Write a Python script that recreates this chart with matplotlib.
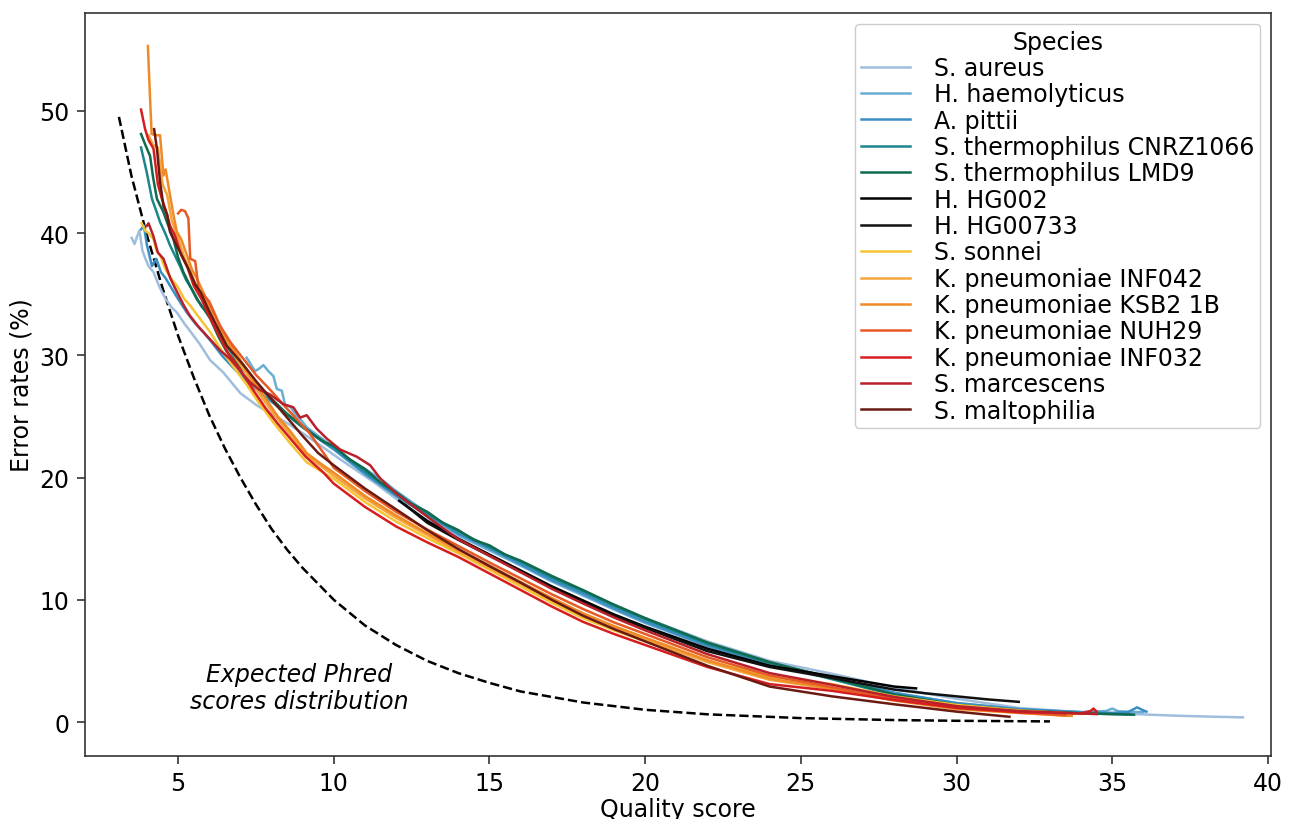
import matplotlib
matplotlib.use("Agg")
import matplotlib.pyplot as plt

# values (quality score -> error rate %)

PHRED_Q = [3.1, 3.5, 4, 4.5, 5, 5.5, 6, 6.5, 7, 7.5, 8, 8.5, 9, 10, 11, 12, 13, 14, 15,
           16, 18, 20, 22, 25, 28, 30, 33]
PHRED_E = [49.5, 44.7, 39.8, 35.5, 31.6, 28.2, 25.1, 22.4, 20.0, 17.8, 15.8, 14.1, 12.6,
           10.0, 7.9, 6.3, 5.0, 4.0, 3.2, 2.5, 1.6, 1.0, 0.63, 0.32, 0.16, 0.1, 0.05]

AUREUS_Q = [3.51, 3.6, 3.68, 3.76, 3.85, 3.95, 4.05, 4.21, 4.4, 4.6, 4.8, 4.96, 5.2, 5.38,
            5.7, 6.03, 6.45, 7.0, 7.53, 8.06, 8.6, 9.13, 9.7, 10.2, 11.3, 12.3, 13, 14, 15,
            16, 17, 18, 19, 20, 22, 24, 26, 28, 30, 32, 34, 36, 37, 38, 39.2]
AUREUS_E = [39.6, 39.1, 39.7, 40.2, 38.6, 37.9, 37.3, 36.8, 35.6, 34.6, 33.9, 33.5, 32.6,
            32.0, 30.9, 29.6, 28.6, 26.9, 25.9, 25.1, 24.3, 23.4, 22.4, 21.5, 19.6, 17.7,
            16.5, 15.25, 14.05, 12.9, 11.75, 10.65, 9.6, 8.5, 6.6, 5.0, 3.95, 2.8, 1.9,
            1.15, 0.8, 0.62, 0.52, 0.45, 0.38]

HAEM_Q = [7.2, 7.35, 7.47, 7.6, 7.74, 7.9, 8.06, 8.17, 8.33, 8.44, 8.6, 8.76, 8.95, 9.13,
          9.45, 9.77, 10.5, 11.5, 12, 13, 14, 15, 16, 17, 18, 19, 20, 22, 24, 26, 28, 30,
          32, 34, 34.8, 35.0, 35.2, 36.0]
HAEM_E = [29.8, 29.2, 28.7, 28.9, 29.2, 28.7, 28.3, 27.25, 27.1, 25.9, 25.8, 25.2, 24.7,
          24.1, 23.5, 22.9, 21.5, 19.9, 18.9, 17.1, 15.3, 14.05, 12.8, 11.5, 10.35, 9.2,
          8.1, 6.2, 4.75, 3.6, 2.35, 1.55, 1.05, 0.82, 0.9, 1.1, 0.88, 0.8]

PITTII_Q = [3.81, 3.9, 4.0, 4.16, 4.3, 4.45, 4.6, 4.74, 5.0, 5.28, 5.55, 5.81, 6.1, 6.4,
            6.8, 7.2, 7.6, 8.0, 8.4, 8.8, 9.2, 9.6, 10, 11, 12, 13, 14, 15, 16, 17, 18,
            19, 20, 22, 24, 26, 28, 30, 32, 34, 35, 35.5, 35.8, 36.0, 36.1]
PITTII_E = [40.3, 40.6, 39.0, 37.3, 37.9, 36.8, 36.3, 35.7, 34.6, 33.5, 32.6, 31.9, 31.0,
            30.0, 28.9, 27.9, 27.0, 26.2, 25.4, 24.6, 23.8, 23.0, 22.3, 20.3, 18.5, 16.9,
            15.4, 14.2, 12.9, 11.6, 10.5, 9.3, 8.2, 6.25, 4.8, 3.65, 2.4, 1.55, 1.05, 0.8,
            0.75, 0.8, 1.2, 0.95, 0.85]

CNRZ_Q = [3.81, 3.9, 3.99, 4.16, 4.3, 4.42, 4.6, 4.74, 5.06, 5.25, 5.49, 5.75, 6.03, 6.3,
          6.6, 7.0, 7.4, 7.8, 8.2, 8.6, 9.0, 9.5, 10, 11, 12, 13, 14, 15, 16, 17, 18, 19,
          20, 22, 24, 26, 28, 30, 32, 34, 35.6]
CNRZ_E = [47.0, 46.0, 45.0, 42.8, 41.8, 40.9, 39.9, 39.0, 37.3, 36.2, 35.2, 34.0, 33.2,
          31.8, 30.6, 29.2, 28.0, 26.9, 25.8, 24.9, 24.1, 23.2, 22.45, 20.5, 18.65, 17.0,
          15.6, 14.3, 13.1, 11.8, 10.7, 9.5, 8.4, 6.4, 4.8, 3.5, 2.2, 1.35, 0.92, 0.7,
          0.62]

LMD9_Q = [3.81, 3.95, 4.1, 4.2, 4.32, 4.53, 4.7, 4.85, 5.0, 5.17, 5.4, 5.6, 5.8, 6.03,
          6.3, 6.56, 6.9, 7.3, 7.7, 8.1, 8.5, 8.9, 9.3, 9.7, 10, 10.5, 11, 11.5, 12, 12.5,
          13, 13.5, 14, 14.5, 15, 15.5, 16, 17, 18, 19, 20, 22, 24, 26, 28, 30, 32, 34,
          35.7]
LMD9_E = [48.1, 47.2, 46.3, 44.5, 42.8, 41.7, 40.5, 39.5, 38.0, 36.8, 35.6, 34.6, 33.9,
          33.0, 31.5, 30.3, 29.3, 28.3, 27.2, 26.2, 25.2, 24.4, 23.6, 22.9, 22.6, 21.5,
          20.7, 19.6, 18.8, 17.85, 17.2, 16.3, 15.7, 14.9, 14.45, 13.7, 13.2, 11.95, 10.8,
          9.6, 8.5, 6.5, 4.9, 3.6, 2.25, 1.4, 0.95, 0.72, 0.6]

HG002_Q = [12.1, 13, 14, 15, 16, 17, 18, 19, 20, 22, 24, 26, 28, 28.7]
HG002_E = [18.1, 16.45, 15.0, 13.7, 12.4, 11.1, 9.95, 8.8, 7.8, 6.0, 4.6, 3.75, 2.9, 2.75]

HG00733_Q = [12.3, 13, 14, 15, 16, 17, 18, 19, 20, 22, 24, 26, 28, 29, 30, 31, 32.0]
HG00733_E = [17.75, 16.3, 14.9, 13.6, 12.3, 11.0, 9.8, 8.7, 7.7, 5.8, 4.5, 3.6, 2.65,
             2.35, 2.1, 1.85, 1.65]

SONNEI_Q = [3.83, 3.95, 4.05, 4.21, 4.3, 4.42, 4.6, 4.8, 4.96, 5.2, 5.38, 5.7, 6.03, 6.4,
            6.88, 7.2, 7.6, 8.06, 8.6, 9.13, 9.6, 10, 11, 12, 13, 14, 15, 16, 17, 18, 19,
            20, 22, 24, 26, 28, 30, 32, 34]
SONNEI_E = [40.8, 40.2, 40.0, 39.5, 38.6, 38.2, 37.0, 36.2, 35.7, 34.6, 34.1, 33.0, 31.9,
            30.4, 28.7, 27.6, 26.1, 24.5, 22.8, 21.25, 20.5, 19.9, 18.0, 16.4, 15.05, 13.8,
            12.45, 11.1, 9.75, 8.5, 7.5, 6.6, 5.0, 3.7, 3.1, 2.1, 1.4, 0.95, 0.65]

INF042_Q = [4.05, 4.2, 4.35, 4.5, 4.65, 4.8, 5.0, 5.2, 5.4, 5.6, 5.9, 6.2, 6.5, 6.9, 7.3,
            7.7, 8.1, 8.6, 9.1, 9.6, 10, 11, 12, 13, 14, 15, 16, 17, 18, 19, 20, 22, 24,
            26, 28, 30, 32, 33.6]
INF042_E = [48.0, 47.2, 47.0, 44.0, 43.1, 41.0, 39.6, 38.0, 36.9, 35.5, 34.3, 32.6, 31.4,
            29.6, 28.1, 26.5, 25.1, 23.5, 21.9, 20.9, 20.15, 18.3, 16.7, 15.3, 13.95, 12.6,
            11.3, 9.95, 8.7, 7.7, 6.75, 4.9, 3.45, 2.7, 1.75, 1.05, 0.75, 0.5]

KSB2_Q = [4.03, 4.1, 4.15, 4.3, 4.42, 4.53, 4.6, 4.74, 4.85, 4.96, 5.1, 5.28, 5.45, 5.6,
          5.8, 6.0, 6.3, 6.6, 7.0, 7.4, 7.8, 8.2, 8.6, 9.13, 9.6, 10, 11, 12, 13, 14, 15,
          16, 17, 18, 19, 20, 22, 24, 26, 28, 30, 32, 33.7]
KSB2_E = [55.3, 51.0, 48.1, 48.0, 48.0, 44.7, 45.2, 43.1, 41.5, 40.1, 39.5, 38.2, 37.0,
          36.3, 35.2, 34.1, 32.6, 31.2, 29.6, 28.0, 26.5, 25.0, 23.8, 22.0, 21.1, 20.4,
          18.5, 16.9, 15.45, 14.1, 12.8, 11.45, 10.15, 8.9, 7.85, 6.9, 5.05, 3.55, 2.75,
          1.8, 1.1, 0.75, 0.5]

NUH29_Q = [5.0, 5.1, 5.22, 5.33, 5.39, 5.55, 5.66, 5.8, 6.0, 6.35, 6.7, 7.1, 7.5, 7.95,
           8.4, 8.8, 9.2, 9.7, 10, 11, 12, 13, 14, 15, 16, 17, 18, 19, 20, 22, 24, 26,
           28, 30, 32, 33.5]
NUH29_E = [41.6, 41.9, 41.8, 41.2, 37.9, 37.7, 35.4, 35.0, 34.4, 32.4, 31.0, 29.7, 28.4,
           27.2, 25.9, 24.8, 23.7, 21.9, 20.8, 18.9, 17.2, 15.75, 14.4, 13.05, 11.75,
           10.45, 9.25, 8.15, 7.2, 5.3, 3.8, 2.85, 1.9, 1.2, 0.8, 0.55]

INF032_Q = [3.81, 3.94, 4.05, 4.21, 4.35, 4.48, 4.6, 4.74, 4.9, 5.1, 5.3, 5.5, 5.75, 6.0,
            6.3, 6.6, 7.0, 7.4, 7.8, 8.2, 8.6, 9.1, 9.67, 10, 11, 12, 13, 14, 15, 16, 17,
            18, 19, 20, 22, 24, 26, 28, 30, 32, 34, 34.3, 34.4, 34.5]
INF032_E = [50.1, 48.5, 47.6, 46.9, 44.0, 42.8, 41.9, 40.6, 39.8, 38.2, 37.2, 35.7, 34.6,
            33.2, 31.7, 30.2, 28.8, 27.2, 25.7, 24.4, 23.2, 21.7, 20.4, 19.5, 17.6, 16.0,
            14.7, 13.5, 12.15, 10.8, 9.45, 8.2, 7.2, 6.3, 4.5, 3.1, 2.55, 1.8, 1.15, 0.8,
            0.7, 0.9, 1.1, 0.85]

MARCESCENS_Q = [4.0, 4.05, 4.2, 4.35, 4.53, 4.75, 4.96, 5.2, 5.39, 5.7, 6.03, 6.35, 6.67,
                7.0, 7.31, 7.6, 7.95, 8.38, 8.7, 8.92, 9.13, 9.45, 9.77, 10.2, 10.74,
                11.17, 11.5, 12, 13, 14, 15, 16, 17, 18, 19, 20, 22, 24, 26, 28, 30, 32,
                34, 34.5]
MARCESCENS_E = [40.6, 40.8, 39.8, 38.4, 37.9, 36.3, 35.2, 34.0, 33.2, 32.2, 31.3, 30.4,
                29.7, 28.7, 27.8, 27.2, 26.8, 26.0, 25.75, 24.9, 25.1, 24.0, 23.2, 22.3,
                21.7, 21.0, 19.9, 18.7, 16.8, 14.95, 13.6, 12.25, 10.9, 9.7, 8.55, 7.5,
                5.55, 4.0, 3.05, 2.05, 1.3, 0.9, 0.7, 0.65]

MALTO_Q = [4.23, 4.32, 4.42, 4.53, 4.65, 4.74, 4.95, 5.17, 5.38, 5.55, 5.71, 6.0, 6.24,
           6.56, 7.1, 7.5, 8.0, 8.5, 9.0, 9.5, 10, 11, 12, 13, 14, 15, 16, 17, 18, 19, 20,
           22, 24, 26, 28, 29, 30, 31, 31.7]
MALTO_E = [48.5, 46.9, 44.2, 42.2, 41.5, 40.1, 39.0, 37.9, 36.8, 35.8, 35.2, 33.6, 32.4,
           30.8, 29.2, 27.9, 26.4, 24.9, 23.4, 22.0, 21.0, 19.1, 17.4, 15.7, 14.15, 12.75,
           11.4, 10.0, 8.7, 7.6, 6.6, 4.6, 2.9, 2.1, 1.45, 1.15, 0.85, 0.6, 0.43]

LABELS = ["S. aureus", "H. haemolyticus", "A. pittii", "S. thermophilus CNRZ1066",
          "S. thermophilus LMD9", "H. HG002", "H. HG00733", "S. sonnei",
          "K. pneumoniae INF042", "K. pneumoniae KSB2 1B", "K. pneumoniae NUH29",
          "K. pneumoniae INF032", "S. marcescens", "S. maltophilia"]
COLORS = ["#9fbddc", "#6aaed6", "#3b8ec4", "#1b878d", "#0f6a50", "#000000", "#111111",
          "#f6c432", "#f4a53b", "#ef8a28", "#e65a26", "#d71e1e", "#b8202a", "#6b1a12"]
CURVES = [(AUREUS_Q, AUREUS_E), (HAEM_Q, HAEM_E), (PITTII_Q, PITTII_E), (CNRZ_Q, CNRZ_E),
          (LMD9_Q, LMD9_E), (HG002_Q, HG002_E), (HG00733_Q, HG00733_E),
          (SONNEI_Q, SONNEI_E), (INF042_Q, INF042_E), (KSB2_Q, KSB2_E),
          (NUH29_Q, NUH29_E), (INF032_Q, INF032_E), (MARCESCENS_Q, MARCESCENS_E),
          (MALTO_Q, MALTO_E)]

plt.rcParams["font.family"] = "DejaVu Sans"

fig = plt.figure(figsize=(13.03, 8.2), dpi=100)
ax = fig.add_axes([85 / 1303, 1 - 757 / 820, (1271 - 85) / 1303, (757 - 14) / 820])

ax.plot(PHRED_Q, PHRED_E, color="black", ls="--", lw=1.8)
for (q, e), lab, col in zip(CURVES, LABELS, COLORS):
    ax.plot(q, e, color=col, lw=1.8, label=lab)

ax.text(8.9, 2.8, "Expected Phred\nscores distribution", style="italic", fontsize=17,
        ha="center", va="center", multialignment="center", linespacing=1.15)

ax.set_xlim(2.01, 40.1)
ax.set_ylim(-2.78, 58.0)
ax.set_xticks([5, 10, 15, 20, 25, 30, 35, 40])
ax.set_yticks([0, 10, 20, 30, 40, 50])
ax.tick_params(labelsize=17, length=6, width=1.2, color="#333333", pad=5)
for s in ax.spines.values():
    s.set_linewidth(1.2)
    s.set_color("#333333")
ax.set_xlabel("Quality score", fontsize=17, labelpad=1)
ax.set_ylabel("Error rates (%)", fontsize=17, labelpad=4)

leg = ax.legend(title="Species", loc="upper right", fontsize=17, title_fontsize=17,
                handlelength=2.1, labelspacing=0.1, borderpad=0.25, handletextpad=1.0,
                borderaxespad=0.45, framealpha=1.0, edgecolor="#cccccc")

fig.savefig("out.png", dpi=100)
